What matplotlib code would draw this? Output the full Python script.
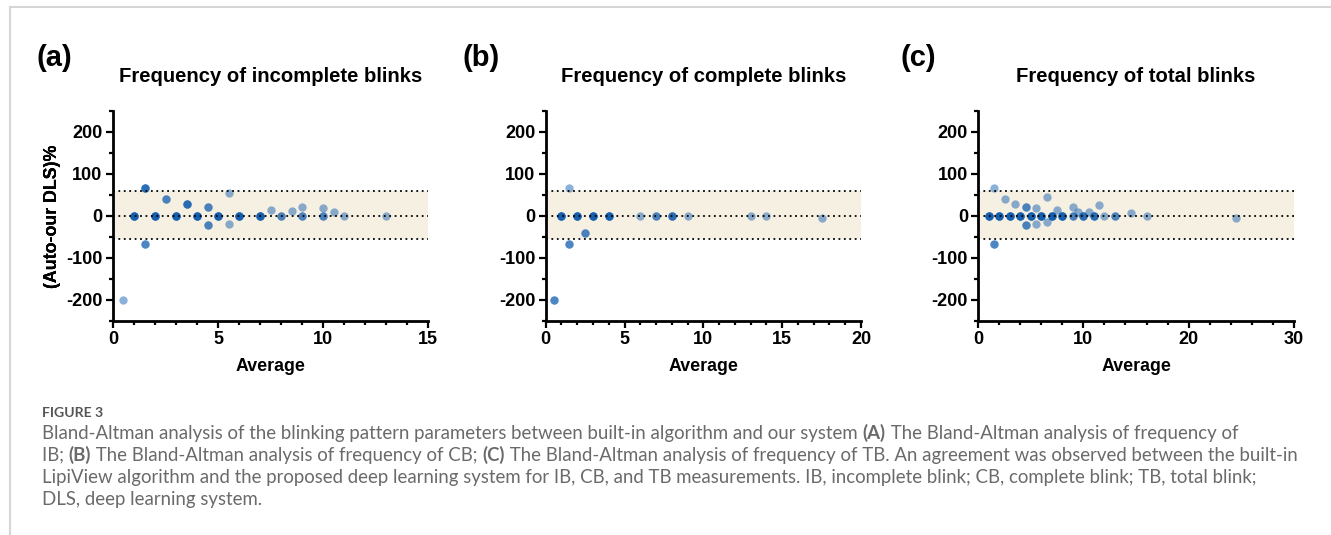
import matplotlib
matplotlib.use('Agg')
import matplotlib.pyplot as plt
from matplotlib.lines import Line2D
from matplotlib.ticker import MultipleLocator
import numpy as np

plt.rcParams['axes.unicode_minus'] = False
plt.rcParams['font.family'] = ['Liberation Sans', 'DejaVu Sans']

# ---------------- data (x = average, y = difference %, n = overlapping points) -------------
ib_x = [0.5, 1, 1.5, 1.5, 2, 2.5, 3, 3.5, 4, 4.5, 4.5, 5, 5.5, 5.5, 6, 7, 7.5, 8, 8.5, 9, 9, 10, 10, 10.5, 11, 13]
ib_y = [-200, 0, 66.7, -66.7, 0, 40, 0, 28.6, 0, 22.2, -22.2, 0, 54.5, -18.2, 0, 0, 13.3, 0, 11.8, 22.2, 0, 20, 0, 9.5, 0, 0]
ib_n = [1, 4, 3, 2, 4, 2, 4, 3, 4, 2, 2, 4, 1, 1, 4, 4, 1, 2, 1, 1, 2, 1, 2, 1, 1, 1]

cb_x = [0.5, 1, 1.5, 1.5, 2, 2.5, 3, 4, 6, 7, 8, 9, 13, 14, 17.5]
cb_y = [-200, 0, 66.7, -66.7, 0, -40, 0, 0, 0, 0, 0, 0, 0, 0, -5.7]
cb_n = [2, 4, 1, 2, 4, 2, 4, 4, 1, 2, 3, 1, 1, 1, 1]

tb_x = [1, 1.5, 1.5, 2, 2.5, 3, 3.5, 4, 4.5, 4.5, 5, 5.5, 5.5, 6, 6.5, 6.5, 7, 7.5, 8, 9, 9,
        9.5, 10, 10.5, 11, 11.5, 12, 13, 14.5, 16, 24.5]
tb_y = [0, 66.7, -66.7, 0, 40, 0, 28.6, 0, 22.2, -22.2, 0, 18.2, -18.2, 0, 46.2, -15.4, 0, 13.3, 0, 22.2, 0,
        10.5, 0, 9.5, 0, 26.1, 0, 0, 6.9, 0, -4.1]
tb_n = [4, 1, 2, 4, 1, 4, 1, 4, 2, 2, 4, 1, 1, 4, 1, 1, 4, 1, 4, 1, 2,
        1, 3, 1, 3, 1, 1, 2, 1, 1, 1]

bias = 0.0
loa_upper = 58.5
loa_lower = -54.0

panel_letters = ['(a)', '(b)', '(c)']
titles = ['Frequency of incomplete blinks', 'Frequency of complete blinks', 'Frequency of total blinks']
xmaxes = [15, 20, 30]
xmajor = [5, 5, 10]
xminor = [1, 1, 2]
ylabel = '(Auto-our DLS)%'
xlabel = 'Average'
yticks = [-200, -100, 0, 100, 200]

caption_head = 'FIGURE 3'
caption_lines = [
    [('Bland-Altman analysis of the blinking pattern parameters between built-in algorithm and our system ', False),
     ('(A)', True), (' The Bland-Altman analysis of frequency of', False)],
    [('IB; ', False), ('(B)', True), (' The Bland-Altman analysis of frequency of CB; ', False), ('(C)', True),
     (' The Bland-Altman analysis of frequency of TB. An agreement was observed between the built-in', False)],
    [('LipiView algorithm and the proposed deep learning system for IB, CB, and TB measurements. IB, incomplete blink; CB, complete blink; TB, total blink;', False)],
    [('DLS, deep learning system.', False)],
]

datasets = [(ib_x, ib_y, ib_n), (cb_x, cb_y, cb_n), (tb_x, tb_y, tb_n)]

# ---------------- figure ----------------
W, H = 1331, 535
fig = plt.figure(figsize=(W / 100, H / 100), dpi=100)

def rect(l, r, t, b):
    return [l / W, 1 - b / H, (r - l) / W, (b - t) / H]

ax_px = [(113, 428), (545.7, 861), (978.3, 1293.7)]
letter_x = [36, 462, 900]
point_color = '#0052aa'

for i, (ds, (l, r)) in enumerate(zip(datasets, ax_px)):
    ax = fig.add_axes(rect(l, r, 111, 321))
    xs, ys, ns = ds
    rx = np.repeat(xs, ns)
    ry = np.repeat(ys, ns)
    ax.axhspan(loa_lower, loa_upper, color='#f6f0e2', lw=0, zorder=0)
    ax.scatter(rx, ry, s=36, color=point_color, alpha=0.45, lw=0, zorder=2)
    for v in (loa_upper, bias, loa_lower):
        ax.axhline(v, color='black', lw=1.3, ls=(0, (1, 2.0)), zorder=3)
    ax.set_xlim(0, xmaxes[i])
    ax.set_ylim(-250, 250)
    ax.set_yticks(yticks)
    ax.yaxis.set_minor_locator(MultipleLocator(50))
    ax.xaxis.set_major_locator(MultipleLocator(xmajor[i]))
    ax.xaxis.set_minor_locator(MultipleLocator(xminor[i]))
    for s in ('top', 'right'):
        ax.spines[s].set_visible(False)
    for s in ('left', 'bottom'):
        ax.spines[s].set_linewidth(2)
    ax.tick_params(which='major', length=5, width=1.6, pad=2.5, labelsize=13)
    ax.tick_params(which='minor', length=3, width=1.6)
    for lab in ax.get_xticklabels() + ax.get_yticklabels():
        lab.set_fontweight('bold')
    ax.set_ylabel(ylabel, fontsize=12.8, fontweight='bold')
    ax.yaxis.set_label_coords((61 - l) / (r - l), 0.5)
    ax.set_xlabel(xlabel, fontsize=12.8, fontweight='bold')
    ax.xaxis.set_label_coords(0.5, -(358 - 321) / 210)
    ax.text(0.5, (321 - 77) / 210, titles[i], transform=ax.transAxes, ha='center', va='center',
            fontsize=14.6, fontweight='bold')
    fig.text(letter_x[i] / W, 1 - 58 / H, panel_letters[i], fontsize=21, fontweight='bold',
             ha='left', va='center')

# frame lines
fig.add_artist(Line2D([10 / W, 1], [1 - 7 / H, 1 - 7 / H], color='#d6d6d6', lw=1.5,
                      transform=fig.transFigure))
fig.add_artist(Line2D([10 / W, 10 / W], [0, 1 - 7 / H], color='#d6d6d6', lw=1.5,
                      transform=fig.transFigure))

# caption
renderer = fig.canvas.get_renderer()
cap_font = ['Lato', 'DejaVu Sans']
probe = fig.text(0, 0, ''.join(t for t, _ in caption_lines[1]), fontsize=10, family=cap_font)
wpx = probe.get_window_extent(renderer).width
probe.remove()
cap_size = 10 * (1298 - 42) / wpx

fig.text(42 / W, 1 - 413 / H, caption_head, fontsize=cap_size * 0.75, family=cap_font,
         fontweight='bold', color='#555555', va='center')
line_y = [433, 455, 477, 499]
for runs, yy in zip(caption_lines, line_y):
    x = 42
    for txt, bold in runs:
        t = fig.text(x / W, 1 - yy / H, txt, fontsize=cap_size, family=cap_font,
                     fontweight='bold' if bold else 'normal', color='#6a6a6a', va='center')
        x += t.get_window_extent(renderer).width

fig.savefig('out.png', dpi=100)
